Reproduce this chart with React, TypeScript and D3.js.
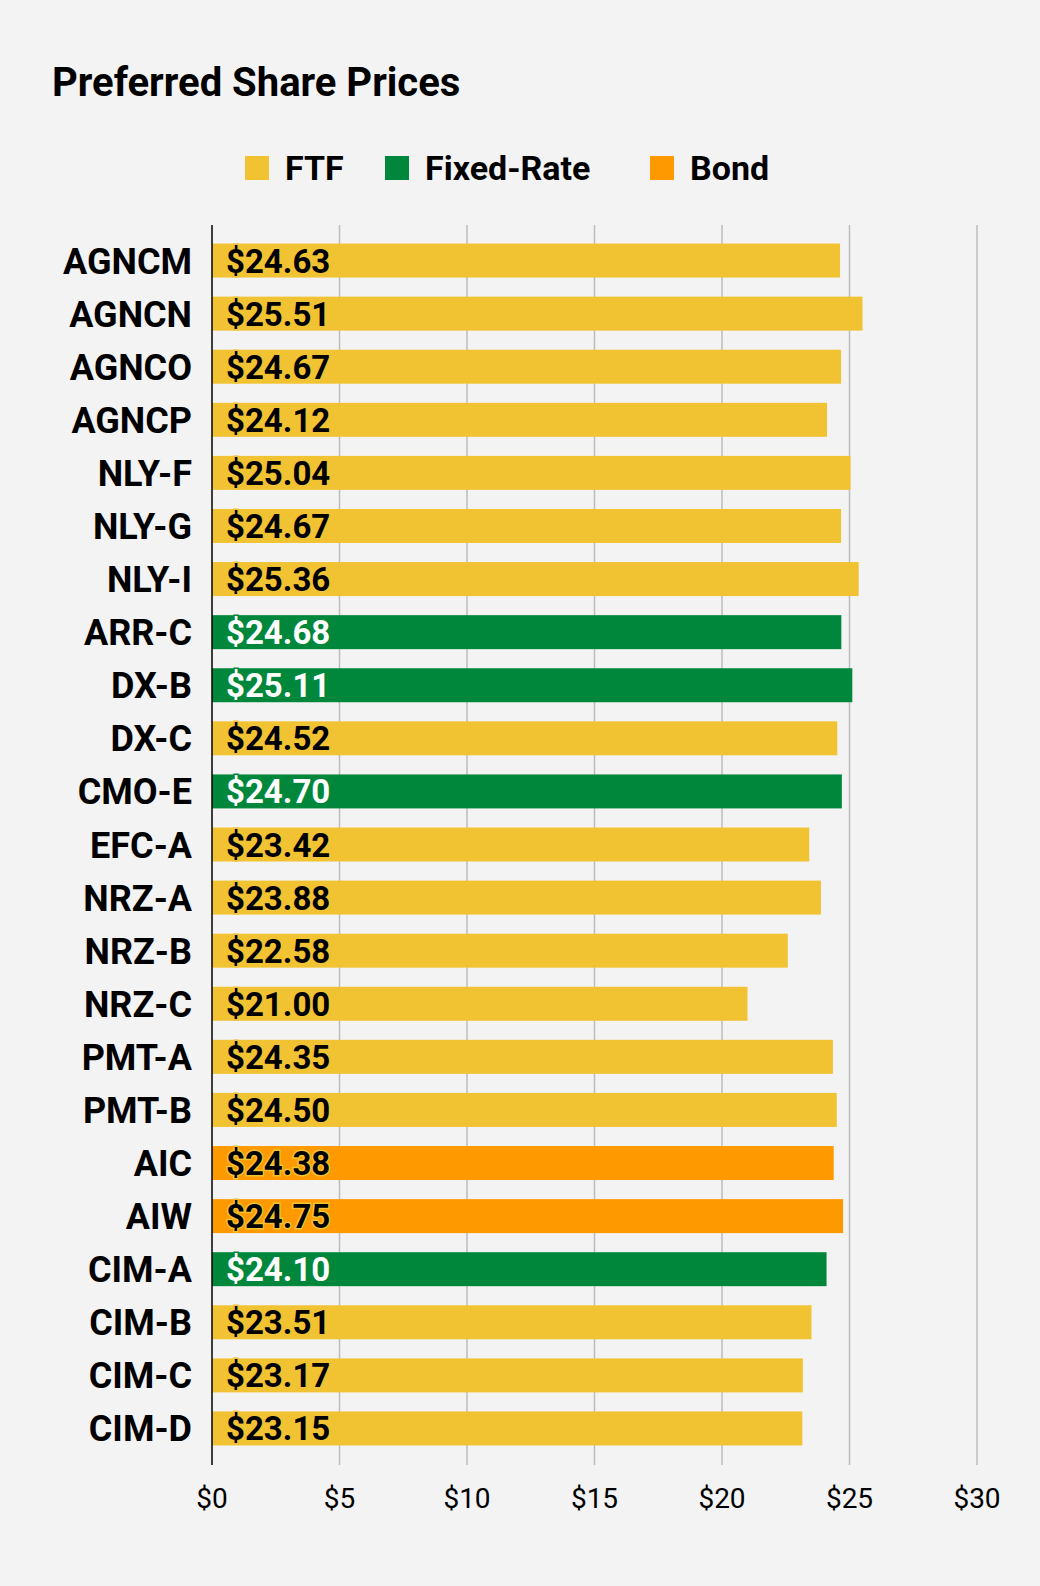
import React from "react";
import * as d3 from "d3";

const names = ["AGNCM","AGNCN","AGNCO","AGNCP","NLY-F","NLY-G","NLY-I","ARR-C","DX-B","DX-C","CMO-E","EFC-A","NRZ-A","NRZ-B","NRZ-C","PMT-A","PMT-B","AIC","AIW","CIM-A","CIM-B","CIM-C","CIM-D"];
const prices = [24.63,25.51,24.67,24.12,25.04,24.67,25.36,24.68,25.11,24.52,24.70,23.42,23.88,22.58,21.00,24.35,24.50,24.38,24.75,24.10,23.51,23.17,23.15];
const types = ["F","F","F","F","F","F","F","X","X","F","X","F","F","F","F","F","F","B","B","X","F","F","F"];
const ticks = [0,5,10,15,20,25,30];
const legend = [["F","FTF"],["X","Fixed-Rate"],["B","Bond"]];
const colors: Record<string,string> = { F: "#f1c232", X: "#00873c", B: "#ff9900" };

export default function App() {
  const x = d3.scaleLinear().domain([0, 30]).range([212, 977]);
  const y = d3.scaleBand().domain(names).range([234, 1455]).paddingInner(0.36).paddingOuter(0.18);
  const font = "Roboto, sans-serif";
  return (
    <svg width={1040} height={1586} style={{ position: "absolute", left: 0, top: 0, background: "#f3f3f3" }} fontFamily={font}>
      <text x={52} y={96} fontSize={40} fontWeight={700} fill="#000">Preferred Share Prices</text>
      {legend.map(([k, l], i) => {
        const lx = [245, 385, 650][i];
        return (
          <g key={k}>
            <rect x={lx} y={156} width={24} height={24} fill={colors[k]} />
            <text x={lx + 40} y={180} fontSize={34} fontWeight={700}>{l}</text>
          </g>
        );
      })}
      {ticks.map(t => (
        <g key={t}>
          {t > 0 && <line x1={x(t)} x2={x(t)} y1={225} y2={1465} stroke="#bdbdbd" strokeWidth={1.5} />}
          <text x={x(t)} y={1508} fontSize={28} textAnchor="middle">${t}</text>
        </g>
      ))}
      {names.map((n, i) => {
        const yy = y(n)!;
        const bw = y.bandwidth();
        const c = colors[types[i]];
        const white = types[i] === "X";
        return (
          <g key={n}>
            <rect x={x(0)} y={yy} width={x(prices[i]) - x(0)} height={bw} fill={c} />
            <text x={192} y={yy + bw / 2 + 13} fontSize={36} fontWeight={700} textAnchor="end">{n}</text>
            <text x={226} y={yy + bw / 2 + 12} fontSize={33} fontWeight={700} fill={white ? "#fff" : "#000"}
              stroke={white ? "#00873c" : "#f1c232"} strokeWidth={3} paintOrder="stroke">${prices[i].toFixed(2)}</text>
          </g>
        );
      })}
      <line x1={212} x2={212} y1={225} y2={1465} stroke="#000" strokeWidth={1.5} />
    </svg>
  );
}
